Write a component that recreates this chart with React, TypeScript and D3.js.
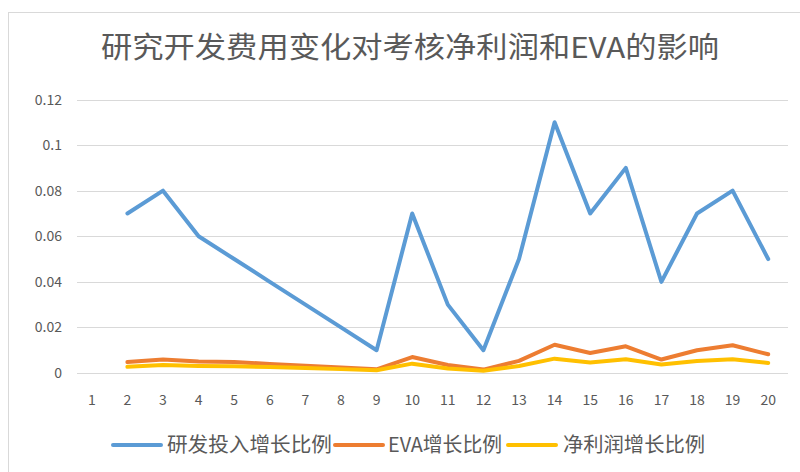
import React from "react"
import * as d3 from "d3"

const title = "研究开发费用变化对考核净利润和EVA的影响"
const categories = ["1", "2", "3", "4", "5", "6", "7", "8", "9", "10", "11", "12", "13", "14", "15", "16", "17", "18", "19", "20"]
const seriesNames = ["研发投入增长比例", "EVA增长比例", "净利润增长比例"]
const rdValues = [null, 0.07, 0.08, 0.06, 0.05, 0.04, 0.03, 0.02, 0.01, 0.07, 0.03, 0.01, 0.05, 0.11, 0.07, 0.09, 0.04, 0.07, 0.08, 0.05]
const evaValues = [null, 0.0048, 0.0059, 0.005, 0.0048, 0.004, 0.0032, 0.0024, 0.0016, 0.007, 0.0035, 0.0015, 0.0053, 0.0124, 0.0088, 0.0117, 0.0059, 0.01, 0.0122, 0.0082]
const profitValues = [null, 0.0027, 0.0035, 0.0031, 0.003, 0.0026, 0.0022, 0.0017, 0.0012, 0.0041, 0.002, 0.001, 0.0031, 0.0063, 0.0046, 0.006, 0.0037, 0.0053, 0.006, 0.0044]
const yTicks = [0, 0.02, 0.04, 0.06, 0.08, 0.1, 0.12]
const colors = ["#5B9BD5", "#ED7D31", "#FFC000"]

const W = 800
const H = 472
const font = "'Noto Sans CJK SC', 'Open Sans', sans-serif"
const textColor = "#595959"

export default function App() {
  const x = d3.scaleBand<string>().domain(categories).range([74, 786])
  const y = d3.scaleLinear().domain([0, 0.12]).range([373, 99.5])
  const line = d3
    .line<number | null>()
    .defined((d) => d != null)
    .x((_, i) => (x(categories[i]) as number) + x.bandwidth() / 2)
    .y((d) => y(d as number))

  const allSeries = [rdValues, evaValues, profitValues]

  // legend: swatch start, label start, label width (Excel-ish condensed text)
  const legendItems = [
    { x: 113, textX: 167, w: 165 },
    { x: 335, textX: 388, w: 114 },
    { x: 508, textX: 563, w: 142 },
  ]

  return (
    <svg
      width={W}
      height={H}
      style={{ position: "absolute", left: 0, top: 0, background: "#fff" }}
      fontFamily={font}
    >
      <rect x={8.5} y={12.5} width={W} height={H} fill="#fff" stroke="#d9d9d9" />
      <text
        x={410}
        y={58}
        textAnchor="middle"
        fontSize={29}
        fill={textColor}
        textLength={618}
        lengthAdjust="spacingAndGlyphs"
      >
        {title}
      </text>
      <g>
        {yTicks.map((t) => (
          <g key={t}>
            <line x1={77} x2={788} y1={Math.round(y(t)) + 0.5} y2={Math.round(y(t)) + 0.5} stroke="#d9d9d9" />
            <text x={62} y={y(t) + 5} textAnchor="end" fontSize={14} fill={textColor}>
              {d3.format("~g")(t)}
            </text>
          </g>
        ))}
      </g>
      <g>
        {categories.map((c) => (
          <text key={c} x={(x(c) as number) + x.bandwidth() / 2} y={405} textAnchor="middle" fontSize={14} fill={textColor}>
            {c}
          </text>
        ))}
      </g>
      <g fill="none" strokeWidth={4} strokeLinejoin="round" strokeLinecap="round">
        {allSeries.map((s, i) => (
          <path key={i} d={line(s) as string} stroke={colors[i]} />
        ))}
      </g>
      <g>
        {seriesNames.map((n, i) => (
          <g key={n}>
            <line x1={legendItems[i].x} x2={legendItems[i].x + 48} y1={445} y2={445} stroke={colors[i]} strokeWidth={4} strokeLinecap="round" />
            <text
              x={legendItems[i].textX}
              y={452}
              fontSize={20}
              fill={textColor}
              textLength={legendItems[i].w}
              lengthAdjust="spacingAndGlyphs"
            >
              {n}
            </text>
          </g>
        ))}
      </g>
    </svg>
  )
}
